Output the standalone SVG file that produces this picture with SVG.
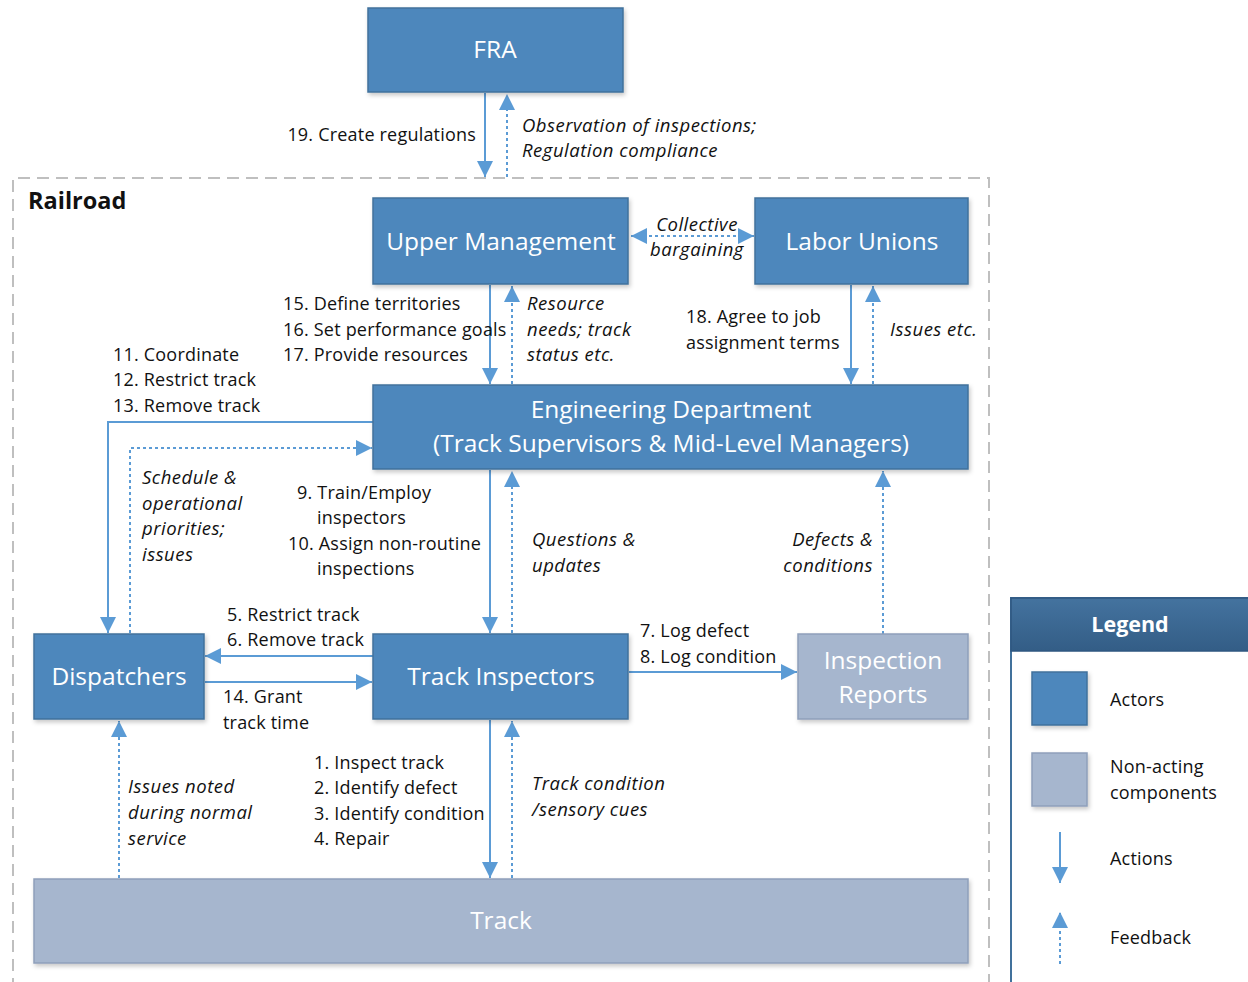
<svg xmlns="http://www.w3.org/2000/svg" width="1248" height="982" viewBox="0 0 1248 982">
<style>
.actor{fill:#4e87bc;stroke:#41719c;stroke-width:1.5}
.non{fill:#a6b6ce;stroke:#8e9fba;stroke-width:1.5}
.bt{font-family:"Open Sans","Liberation Sans",sans-serif;font-size:24.5px;fill:#fff;text-anchor:middle}
.lb{font-family:"Open Sans","Liberation Sans",sans-serif;font-size:18px;letter-spacing:0.2px;fill:#111}
.it{font-style:italic;font-size:18.5px;letter-spacing:0.5px}
.act{fill:none;stroke:#5b9bd5;stroke-width:2}
.fb{fill:none;stroke:#5b9bd5;stroke-width:2;stroke-dasharray:3 3}
</style>
<defs>
<marker id="ah" markerUnits="userSpaceOnUse" markerWidth="16" markerHeight="16" refX="14" refY="7" orient="auto-start-reverse" viewBox="0 0 14 14">
<path d="M0,0 L14,7 L0,14 z" fill="#5b9bd5"/>
</marker>
<filter id="sh" x="-10%" y="-10%" width="130%" height="140%">
<feDropShadow dx="1.5" dy="2.5" stdDeviation="2" flood-color="#000" flood-opacity="0.22"/>
</filter>
<linearGradient id="lg" x1="0" y1="0" x2="0" y2="1">
<stop offset="0" stop-color="#44739f"/>
<stop offset="1" stop-color="#335d86"/>
</linearGradient>
</defs>
<rect width="1248" height="982" fill="#fff"/>

<g id="railroad">
<path d="M13,990 L13,178 L989,178 L989,990" fill="none" stroke="#bfbfbf" stroke-width="2" stroke-dasharray="12 7"/>
<text x="28" y="209" font-family="'Open Sans','Liberation Sans',sans-serif" font-size="23.5" font-weight="bold" fill="#111">Railroad</text>
</g>

<g id="connectors">
<line class="act" x1="485" y1="93" x2="485" y2="177" marker-end="url(#ah)"/>
<line class="fb" x1="507" y1="177" x2="507" y2="94" marker-end="url(#ah)"/>
<line class="fb" x1="631" y1="236" x2="754" y2="236" marker-start="url(#ah)" marker-end="url(#ah)"/>
<line class="act" x1="490" y1="285" x2="490" y2="384" marker-end="url(#ah)"/>
<line class="fb" x1="512" y1="384" x2="512" y2="286" marker-end="url(#ah)"/>
<line class="act" x1="851" y1="285" x2="851" y2="384" marker-end="url(#ah)"/>
<line class="fb" x1="873" y1="384" x2="873" y2="286" marker-end="url(#ah)"/>
<polyline class="act" points="373,422 108,422 108,633" marker-end="url(#ah)"/>
<polyline class="fb" points="130,633 130,448 372,448" marker-end="url(#ah)"/>
<line class="act" x1="490" y1="470" x2="490" y2="633" marker-end="url(#ah)"/>
<line class="fb" x1="512" y1="633" x2="512" y2="471" marker-end="url(#ah)"/>
<line class="fb" x1="883" y1="634" x2="883" y2="471" marker-end="url(#ah)"/>
<line class="act" x1="373" y1="656" x2="205" y2="656" marker-end="url(#ah)"/>
<line class="act" x1="205" y1="682" x2="372" y2="682" marker-end="url(#ah)"/>
<line class="act" x1="629" y1="672" x2="797" y2="672" marker-end="url(#ah)"/>
<line class="act" x1="490" y1="720" x2="490" y2="878" marker-end="url(#ah)"/>
<line class="fb" x1="512" y1="878" x2="512" y2="721" marker-end="url(#ah)"/>
<line class="fb" x1="119" y1="878" x2="119" y2="721" marker-end="url(#ah)"/>
</g>

<g id="labels">
<text class="lb" x="476" y="141" text-anchor="end">19. Create regulations</text>
<text class="lb it" x="522" y="132">Observation of inspections;</text>
<text class="lb it" x="522" y="157">Regulation compliance</text>
<text class="lb it" x="697" y="231" text-anchor="middle">Collective</text>
<text class="lb it" x="697" y="256" text-anchor="middle">bargaining</text>
<text class="lb" x="283" y="310">15. Define territories</text>
<text class="lb" x="283" y="336">16. Set performance goals</text>
<text class="lb" x="283" y="361">17. Provide resources</text>
<text class="lb it" x="527" y="310">Resource</text>
<text class="lb it" x="527" y="336">needs; track</text>
<text class="lb it" x="527" y="361">status etc.</text>
<text class="lb" x="686" y="323">18. Agree to job</text>
<text class="lb" x="686" y="349">assignment terms</text>
<text class="lb it" x="890" y="336">Issues etc.</text>
<text class="lb" x="113" y="361">11. Coordinate</text>
<text class="lb" x="113" y="386">12. Restrict track</text>
<text class="lb" x="113" y="412">13. Remove track</text>
<text class="lb it" x="142" y="484">Schedule &amp;</text>
<text class="lb it" x="142" y="510">operational</text>
<text class="lb it" x="142" y="535">priorities;</text>
<text class="lb it" x="142" y="561">issues</text>
<text class="lb" x="297" y="499">9. Train/Employ</text>
<text class="lb" x="317" y="524">inspectors</text>
<text class="lb" x="288" y="550">10. Assign non-routine</text>
<text class="lb" x="317" y="575">inspections</text>
<text class="lb it" x="532" y="546">Questions &amp;</text>
<text class="lb it" x="532" y="572">updates</text>
<text class="lb it" x="873" y="546" text-anchor="end">Defects &amp;</text>
<text class="lb it" x="873" y="572" text-anchor="end">conditions</text>
<text class="lb" x="227" y="621">5. Restrict track</text>
<text class="lb" x="227" y="646">6. Remove track</text>
<text class="lb" x="223" y="703">14. Grant</text>
<text class="lb" x="223" y="729">track time</text>
<text class="lb" x="640" y="637">7. Log defect</text>
<text class="lb" x="640" y="663">8. Log condition</text>
<text class="lb" x="314" y="769">1. Inspect track</text>
<text class="lb" x="314" y="794">2. Identify defect</text>
<text class="lb" x="314" y="820">3. Identify condition</text>
<text class="lb" x="314" y="845">4. Repair</text>
<text class="lb it" x="532" y="790">Track condition</text>
<text class="lb it" x="532" y="816">/sensory cues</text>
<text class="lb it" x="128" y="793">Issues noted</text>
<text class="lb it" x="128" y="819">during normal</text>
<text class="lb it" x="128" y="845">service</text>
</g>

<g id="fra"><rect class="actor" x="368" y="8" width="255" height="84" filter="url(#sh)"/><text class="bt" x="495" y="58">FRA</text></g>
<g id="upper-management"><rect class="actor" x="373" y="198" width="255" height="86" filter="url(#sh)"/><text class="bt" x="501" y="250">Upper Management</text></g>
<g id="labor-unions"><rect class="actor" x="755" y="198" width="213" height="86" filter="url(#sh)"/><text class="bt" x="862" y="250">Labor Unions</text></g>
<g id="engineering"><rect class="actor" x="373" y="385" width="595" height="84" filter="url(#sh)"/><text class="bt" x="671" y="418">Engineering Department</text><text class="bt" x="671" y="452">(Track Supervisors &amp; Mid-Level Managers)</text></g>
<g id="dispatchers"><rect class="actor" x="34" y="634" width="170" height="85" filter="url(#sh)"/><text class="bt" x="119" y="685">Dispatchers</text></g>
<g id="track-inspectors"><rect class="actor" x="373" y="634" width="255" height="85" filter="url(#sh)"/><text class="bt" x="501" y="685">Track Inspectors</text></g>
<g id="inspection-reports"><rect class="non" x="798" y="634" width="170" height="85" filter="url(#sh)"/><text class="bt" x="883" y="669">Inspection</text><text class="bt" x="883" y="703">Reports</text></g>
<g id="track"><rect class="non" x="34" y="879" width="934" height="84" filter="url(#sh)"/><text class="bt" x="501" y="929">Track</text></g>

<g id="legend">
<rect x="1011" y="598" width="250" height="400" fill="#fff" stroke="#41719c" stroke-width="2"/>
<rect x="1011" y="598" width="250" height="53" fill="url(#lg)" stroke="#2f5780" stroke-width="1.5"/>
<text x="1130" y="632" font-family="'Open Sans','Liberation Sans',sans-serif" font-size="21.5" font-weight="bold" fill="#fff" text-anchor="middle">Legend</text>
<rect class="actor" x="1032" y="672" width="55" height="53" filter="url(#sh)"/>
<text class="lb" x="1110" y="706">Actors</text>
<rect class="non" x="1032" y="753" width="55" height="53" filter="url(#sh)"/>
<text class="lb" x="1110" y="773">Non-acting</text>
<text class="lb" x="1110" y="799">components</text>
<line class="act" x1="1060" y1="832" x2="1060" y2="883" marker-end="url(#ah)"/>
<text class="lb" x="1110" y="865">Actions</text>
<line class="fb" x1="1060" y1="964" x2="1060" y2="912" marker-end="url(#ah)"/>
<text class="lb" x="1110" y="944">Feedback</text>
</g>
</svg>
